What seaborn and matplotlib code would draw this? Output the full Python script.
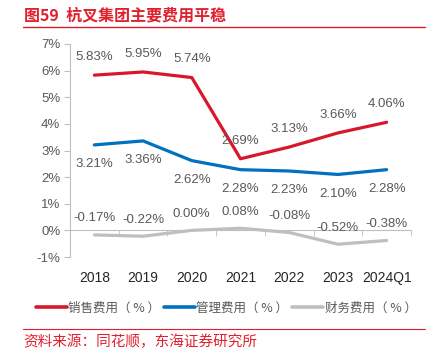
import numpy as np
import pandas as pd
import matplotlib.pyplot as plt
import seaborn as sns
from matplotlib.lines import Line2D

years = ['2018', '2019', '2020', '2021', '2022', '2023', '2024Q1']
sales = [5.83, 5.95, 5.74, 2.69, 3.13, 3.66, 4.06]
admin = [3.21, 3.36, 2.62, 2.28, 2.23, 2.10, 2.28]
fin = [-0.17, -0.22, 0.00, 0.08, -0.08, -0.52, -0.38]
names = ['销售费用（ % ）', '管理费用（ % ）', '财务费用（ % ）']
colors = ['#D7182A', '#0070C0', '#BFBFBF']

sns.set_style('white')
plt.rcParams['font.family'] = ['Liberation Sans', 'Noto Sans CJK SC', 'DejaVu Sans']

rows = []
for name, vals in zip(names, [sales, admin, fin]):
    for i, v in enumerate(vals):
        rows.append({'x': i, 'value': v, 'series': name})
df = pd.DataFrame(rows)

W, H = 435, 357
fig = plt.figure(figsize=(W / 100, H / 100), dpi=100)
ax = fig.add_axes([70 / W, 1 - 257 / H, (411 - 70) / W, (257 - 44) / H])

sns.lineplot(data=df, x='x', y='value', hue='series', palette=colors,
             linewidth=2.3, ax=ax, legend=False)

txt = '#595959'
# labels: (values, offset in points)
for vals, dy in [(sales, 13), (admin, -14), (fin, 12)]:
    for i, v in enumerate(vals):
        ax.annotate(f'{v:.2f}%', (i, v), xytext=(0, dy), textcoords='offset points',
                    ha='center', va='center', fontsize=9.5, color=txt,
                    family=['Liberation Sans'])

ax.set_xlim(-0.5, 6.5)
ax.set_ylim(-1, 7)
ax.set_yticks(range(-1, 8))
ax.set_yticklabels([f'{v}%' for v in range(-1, 8)], color=txt, fontsize=9.5)
ax.set_xticks(range(len(years)))
ax.set_xticklabels(years, color=txt, fontsize=9.5)
ax.set_xticks(np.arange(-0.5, 7, 1), minor=True)
ax.set_xlabel('')
ax.set_ylabel('')

for s in ['top', 'right']:
    ax.spines[s].set_visible(False)
ax.spines['left'].set_color('#BFBFBF')
ax.spines['bottom'].set_color('#BFBFBF')
ax.spines['bottom'].set_position(('data', 0))
ax.tick_params(axis='y', length=4, color='#BFBFBF', pad=3, direction='out', left=True)
ax.tick_params(axis='x', which='major', length=0, pad=29, bottom=True)
ax.tick_params(axis='x', which='minor', length=4, color='#BFBFBF', direction='out', bottom=True)

handles = [Line2D([], [], color=c, lw=2.6) for c in colors]
leg = fig.legend(handles, names, loc='center', bbox_to_anchor=(0.52, 1 - 308 / H),
                 ncol=3, frameon=False, handlelength=2.5, handletextpad=0.1,
                 columnspacing=0.3, prop={'family': ['Noto Sans CJK SC'], 'size': 9})
for t in leg.get_texts():
    t.set_color(txt)

red = '#E0202E'
fig.text(24 / W, 1 - 15 / H, '图59  杭叉集团主要费用平稳', color=red, fontsize=11.5,
         fontweight='bold', va='center', ha='left', family=['Noto Sans CJK SC'])
fig.add_artist(Line2D([23 / W, 425 / W], [1 - 27 / H, 1 - 27 / H], color=red, lw=1.0))
fig.add_artist(Line2D([23 / W, 425 / W], [1 - 329 / H, 1 - 329 / H], color=red, lw=0.8))
fig.text(23 / W, 1 - 342 / H, '资料来源：同花顺，东海证券研究所', color=red, fontsize=10.5,
         va='center', ha='left', family=['Noto Sans CJK SC'])

fig.savefig('out.png', dpi=100)
